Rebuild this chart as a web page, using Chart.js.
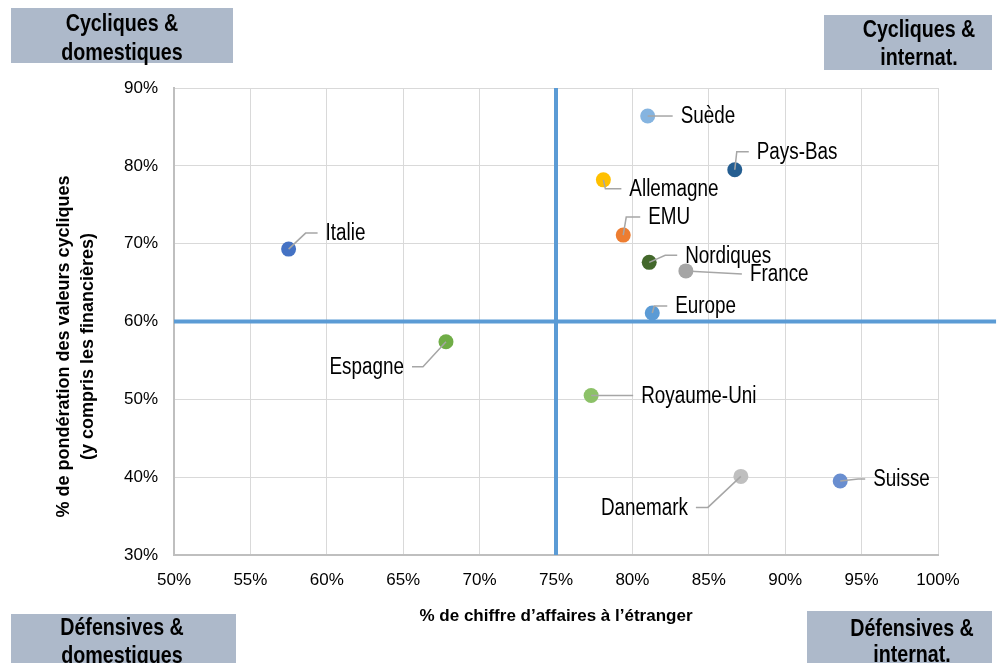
<!DOCTYPE html>
<html>
<head>
<meta charset="utf-8">
<script src="https://cdn.jsdelivr.net/npm/chart.js@4.4.1/dist/chart.umd.min.js"></script>
<style>
  html, body { margin: 0; padding: 0; background: #fff; }
</style>
</head>
<body>
<canvas id="scatter-chart" width="997" height="663"></canvas>
<script>
// données (en %)
const pays = ['Suède', 'Pays-Bas', 'Allemagne', 'EMU', 'Italie', 'Nordiques', 'France', 'Europe', 'Espagne', 'Royaume-Uni', 'Danemark', 'Suisse'];
const chiffreEtranger = [81.0, 86.7, 78.1, 79.4, 57.5, 81.1, 83.5, 81.3, 67.8, 77.3, 87.1, 93.6];
const ponderationCycliques = [86.4, 79.5, 78.2, 71.1, 69.3, 67.6, 66.5, 61.1, 57.4, 50.5, 40.1, 39.5];

const xTicks = [50, 55, 60, 65, 70, 75, 80, 85, 90, 95, 100];
const yTicks = [30, 40, 50, 60, 70, 80, 90];

// séparation des quadrants
const seuilX = 75;
const seuilY = 60;
const seuilYFin = 103.8; // la ligne horizontale déborde à droite

const quadrants = [
    ['Cycliques &', 'domestiques'],
    ['Cycliques &', 'internat.'],
    ['Défensives &', 'domestiques'],
    ['Défensives &', 'internat.'],
];

// styles
const couleurs = ['#85b4e0', '#255e91', '#ffc000', '#ed7d31', '#4472c4', '#43682b', '#a5a5a5', '#5b9bd5', '#70ad47', '#8cc168', '#bfbfbf', '#698ed0'];
// décalage des étiquettes : [dx texte, dy texte, dx coude]
const placement = [
    [33, 0, 0], [22, -18, 2], [26, 9, 2], [25, -18, 3], [37, -16, 17], [36, -7, 16],
    [64, 3, 56], [23, -7, 2], [-42, 25, -23], [50, 0, 0], [-53, 31, -33], [33, -2, 18],
];
// boîtes des coins : x, y, largeur, hauteur, centre du texte, lignes
const boites = [
    [11, 8, 222, 55, 122, 24, 53],
    [824, 15, 168, 55, 919, 30, 58],
    [11, 614, 225, 60, 122, 628, 656],
    [807, 611, 185, 60, 912, 629, 655],
];

// Arial Narrow -> Liberation Sans Narrow si disponible, sinon texte resserré
const narrowDispo = (function () {
    const c = document.createElement('canvas').getContext('2d');
    c.font = '40px monospace';
    const a = c.measureText('Cycliques & domestiques').width;
    c.font = '40px "Liberation Sans Narrow", monospace';
    const b = c.measureText('Cycliques & domestiques').width;
    return Math.abs(a - b) > 1;
})();
const NARROW = narrowDispo ? '"Liberation Sans Narrow"' : '"Liberation Sans"';
const serre = narrowDispo ? 1 : 0.82;

function texteSerre(ctx, txt, x, y, align) {
    ctx.save();
    ctx.translate(x, y);
    ctx.scale(serre, 1);
    ctx.textAlign = align;
    ctx.textBaseline = 'middle';
    ctx.fillText(txt, 0, 0);
    ctx.restore();
}

const etiquettesPlugin = {
    id: 'etiquettes',
    afterDatasetsDraw(chart) {
        const ctx = chart.ctx;
        const meta = chart.getDatasetMeta(2);
        ctx.save();
        meta.data.forEach((pt, i) => {
            const [tx, ty, ex] = placement[i];
            const s = tx < 0 ? -1 : 1;
            ctx.strokeStyle = '#a6a6a6';
            ctx.lineWidth = 1.5;
            ctx.beginPath();
            ctx.moveTo(pt.x, pt.y);
            ctx.lineTo(pt.x + ex, pt.y + ty);
            ctx.lineTo(pt.x + tx - 8 * s, pt.y + ty);
            ctx.stroke();
            ctx.fillStyle = '#000';
            ctx.font = '23px ' + NARROW;
            texteSerre(ctx, pays[i], pt.x + tx, pt.y + ty + 1, s < 0 ? 'right' : 'left');
        });
        ctx.restore();
    }
};

const boitesPlugin = {
    id: 'boites',
    afterDraw(chart) {
        const ctx = chart.ctx;
        ctx.save();
        boites.forEach((b, i) => {
            ctx.fillStyle = '#adb9ca';
            ctx.fillRect(b[0], b[1], b[2], b[3]);
            ctx.fillStyle = '#000';
            ctx.font = 'bold 24px ' + NARROW;
            texteSerre(ctx, quadrants[i][0], b[4], b[5], 'center');
            texteSerre(ctx, quadrants[i][1], b[4], b[6], 'center');
        });
        ctx.restore();
    }
};

const espaces = ' '.repeat(10);

window.scatterChart = new Chart(
    document.getElementById('scatter-chart'),
    {
        type: 'scatter',
        data: {
            datasets: [
                {
                    type: 'line',
                    data: [{ x: xTicks[0], y: seuilY }, { x: seuilYFin, y: seuilY }],
                    borderColor: '#5b9bd5',
                    borderWidth: 4,
                    pointRadius: 0,
                    clip: false,
                    order: 2,
                },
                {
                    type: 'line',
                    data: [{ x: seuilX, y: yTicks[0] }, { x: seuilX, y: yTicks[yTicks.length - 1] }],
                    borderColor: '#5b9bd5',
                    borderWidth: 4,
                    pointRadius: 0,
                    clip: false,
                    order: 2,
                },
                {
                    label: 'Pays',
                    data: chiffreEtranger.map((x, i) => ({ x: x, y: ponderationCycliques[i] })),
                    backgroundColor: couleurs,
                    borderWidth: 0,
                    pointRadius: 7.5,
                    order: 1,
                },
            ]
        },
        options: {
            responsive: false,
            animation: false,
            layout: {
                padding: { top: 88, right: 59, bottom: 36, left: 0 }
            },
            plugins: {
                legend: { display: false },
                tooltip: { enabled: false },
            },
            scales: {
                x: {
                    type: 'linear',
                    min: xTicks[0],
                    max: xTicks[xTicks.length - 1],
                    afterBuildTicks: (s) => { s.ticks = xTicks.map(v => ({ value: v })); },
                    afterFit: (s) => { s.height = 72; },
                    ticks: {
                        callback: (v) => v + '%',
                        color: '#000',
                        padding: 15,
                        maxRotation: 0,
                        font: { family: '"Liberation Sans"', size: 17 },
                    },
                    grid: { color: '#d9d9d9', drawTicks: false },
                    border: { color: '#bfbfbf', width: 2 },
                    title: {
                        display: true,
                        text: '% de chiffre d’affaires à l’étranger',
                        color: '#000',
                        padding: { top: 0, bottom: 0 },
                        font: { family: NARROW, size: narrowDispo ? 21 : 17, weight: 'bold' },
                    }
                },
                y: {
                    min: yTicks[0],
                    max: yTicks[yTicks.length - 1],
                    afterBuildTicks: (s) => { s.ticks = yTicks.map(v => ({ value: v })); },
                    afterFit: (s) => { s.width = 174; },
                    ticks: {
                        callback: (v) => v + '%',
                        color: '#000',
                        padding: 16,
                        font: { family: '"Liberation Sans"', size: 17 },
                    },
                    grid: { color: '#d9d9d9', drawTicks: false },
                    border: { color: '#bfbfbf', width: 2 },
                    title: {
                        display: true,
                        text: ['% de pondération des valeurs cycliques' + espaces, '(y compris les financières)' + espaces],
                        color: '#000',
                        padding: { top: 53, bottom: 0 },
                        font: { family: NARROW, size: narrowDispo ? 21 : 18, weight: 'bold', lineHeight: narrowDispo ? 1.1 : 1.28 },
                    }
                }
            }
        },
        plugins: [etiquettesPlugin, boitesPlugin]
    }
);
</script>
</body>
</html>
